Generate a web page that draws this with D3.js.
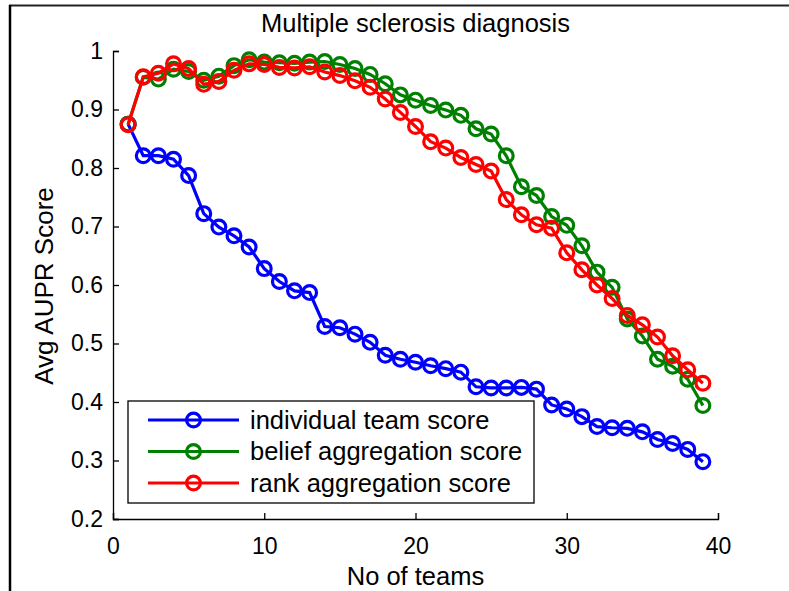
<html>
  <head>
    <style>
    body {
      margin: 0;
      background: #fff;
    }
    svg text {
      font-family: 'Liberation Sans', Arial, sans-serif;
      fill: #000;
    }
    </style>
  </head>
  <body>
    <div id="container"></div>
    <script src="https://d3js.org/d3.v7.min.js"></script>
    <script>

    var teams = [1, 2, 3, 4, 5, 6, 7, 8, 9, 10, 11, 12, 13, 14, 15, 16, 17, 18, 19, 20,
                 21, 22, 23, 24, 25, 26, 27, 28, 29, 30, 31, 32, 33, 34, 35, 36, 37, 38, 39];

    var individual = [0.875, 0.821, 0.821, 0.815, 0.787, 0.722, 0.699, 0.684, 0.665, 0.628,
                      0.606, 0.590, 0.587, 0.529, 0.527, 0.516, 0.502, 0.480, 0.473, 0.468,
                      0.462, 0.457, 0.451, 0.426, 0.424, 0.424, 0.425, 0.422, 0.395, 0.388,
                      0.375, 0.358, 0.356, 0.355, 0.349, 0.336, 0.329, 0.319, 0.298];

    var belief = [0.875, 0.955, 0.952, 0.969, 0.965, 0.950, 0.957, 0.975, 0.985, 0.981,
                  0.980, 0.979, 0.981, 0.982, 0.977, 0.970, 0.960, 0.944, 0.925, 0.916,
                  0.907, 0.899, 0.890, 0.867, 0.858, 0.821, 0.768, 0.753, 0.717, 0.702,
                  0.667, 0.622, 0.596, 0.542, 0.513, 0.473, 0.461, 0.439, 0.394];

    var rank = [0.874, 0.956, 0.962, 0.978, 0.970, 0.943, 0.948, 0.967, 0.978, 0.977,
                0.972, 0.971, 0.973, 0.964, 0.958, 0.949, 0.938, 0.918, 0.895, 0.871,
                0.845, 0.834, 0.818, 0.806, 0.795, 0.746, 0.720, 0.703, 0.697, 0.655,
                0.626, 0.600, 0.577, 0.548, 0.532, 0.511, 0.479, 0.455, 0.432];

    var seriesNames = ["individual team score", "belief aggregation score", "rank aggregation score"];
    var seriesColors = ["#0000ff", "#008000", "#ff0000"];
    var xTicks = [0, 10, 20, 30, 40];
    var yTicks = [0.2, 0.3, 0.4, 0.5, 0.6, 0.7, 0.8, 0.9, 1];

    var W = 789, H = 591;
    var margin = {top: 51, right: 71, bottom: 72, left: 113},
        width = W - margin.left - margin.right,
        height = H - margin.top - margin.bottom;

    var svg = d3.select("#container")
                .append("svg")
                .attr("width", W)
                .attr("height", H);

    // figure frame (top and left edge only)
    svg.append("line")
        .attr("x1", 9).attr("x2", W).attr("y1", 5.5).attr("y2", 5.5)
        .attr("stroke", "#222").attr("stroke-width", 2);
    svg.append("line")
        .attr("x1", 10).attr("x2", 10).attr("y1", 5).attr("y2", H)
        .attr("stroke", "#000").attr("stroke-width", 2.5);

    var g = svg.append("g").attr("transform", "translate(" + margin.left + "," + margin.top + ")");

    var x = d3.scaleLinear().domain([0, 40]).range([0, width]);
    var y = d3.scaleLinear().domain([0.2, 1]).range([height, 0]);

    // axes, matlab style ticks pointing inward
    var xAxis = g.append("g")
        .attr("transform", "translate(0," + height + ")")
        .call(d3.axisBottom(x).tickValues(xTicks).tickSize(-6).tickPadding(14).tickFormat(d3.format("d")));
    var yAxis = g.append("g")
        .call(d3.axisLeft(y).tickValues(yTicks).tickSize(-6).tickPadding(10).tickFormat(function(d) { return d === 1 ? "1" : d3.format(".1f")(d); }));

    [xAxis, yAxis].forEach(function(a) {
      a.select(".domain").attr("stroke", "#000").attr("stroke-width", 1.3);
      a.selectAll(".tick line").attr("stroke", "#000").attr("stroke-width", 1.3);
      a.selectAll(".tick text").attr("font-size", 23).attr("fill", "#000");
    });
    xAxis.selectAll(".tick text").attr("dy", "0.9em");

    var line = d3.line()
        .x(function(d) { return x(d.n); })
        .y(function(d) { return y(d.v); });

    var allSeries = [individual, belief, rank].map(function(vals, i) {
      return {
        name: seriesNames[i],
        color: seriesColors[i],
        values: teams.map(function(n, j) { return {n: n, v: vals[j]}; })
      };
    });

    var s = g.selectAll(".series")
        .data(allSeries)
        .enter().append("g")
          .attr("class", "series");

    s.append("path")
        .attr("d", function(d) { return line(d.values); })
        .attr("fill", "none")
        .attr("stroke", function(d) { return d.color; })
        .attr("stroke-width", 3.2);

    s.each(function(d) {
      d3.select(this).selectAll("circle")
        .data(d.values)
        .enter().append("circle")
          .attr("cx", function(p) { return x(p.n); })
          .attr("cy", function(p) { return y(p.v); })
          .attr("r", 6.9)
          .attr("fill", "none")
          .attr("stroke", d.color)
          .attr("stroke-width", 3.2);
    });

    // title and axis labels
    g.append("text")
        .attr("x", width / 2)
        .attr("y", -19)
        .attr("text-anchor", "middle")
        .attr("font-size", 25.5)
        .text("Multiple sclerosis diagnosis");

    g.append("text")
        .attr("x", width / 2)
        .attr("y", height + 66)
        .attr("text-anchor", "middle")
        .attr("font-size", 25.5)
        .text("No of teams");

    g.append("text")
        .attr("transform", "translate(-60," + (height / 2 + 1) + ") rotate(-90)")
        .attr("text-anchor", "middle")
        .attr("font-size", 26)
        .text("Avg AUPR Score");

    // legend
    var legend = svg.append("g")
        .attr("transform", "translate(128,401)");

    legend.append("rect")
        .attr("width", 406)
        .attr("height", 102)
        .attr("fill", "#fff")
        .attr("stroke", "#000")
        .attr("stroke-width", 1.3);

    var item = legend.selectAll(".item")
        .data(allSeries)
        .enter().append("g")
          .attr("class", "item")
          .attr("transform", function(d, i) { return "translate(0," + (19 + i * 31.5) + ")"; });

    item.append("line")
        .attr("x1", 20).attr("x2", 111)
        .attr("stroke", function(d) { return d.color; })
        .attr("stroke-width", 3.2);

    item.append("circle")
        .attr("cx", 65.5)
        .attr("r", 6.9)
        .attr("fill", "none")
        .attr("stroke", function(d) { return d.color; })
        .attr("stroke-width", 3.2);

    item.append("text")
        .attr("x", 122)
        .attr("dy", "0.35em")
        .attr("font-size", 25.5)
        .text(function(d) { return d.name; });

    </script>
  </body>
</html>
